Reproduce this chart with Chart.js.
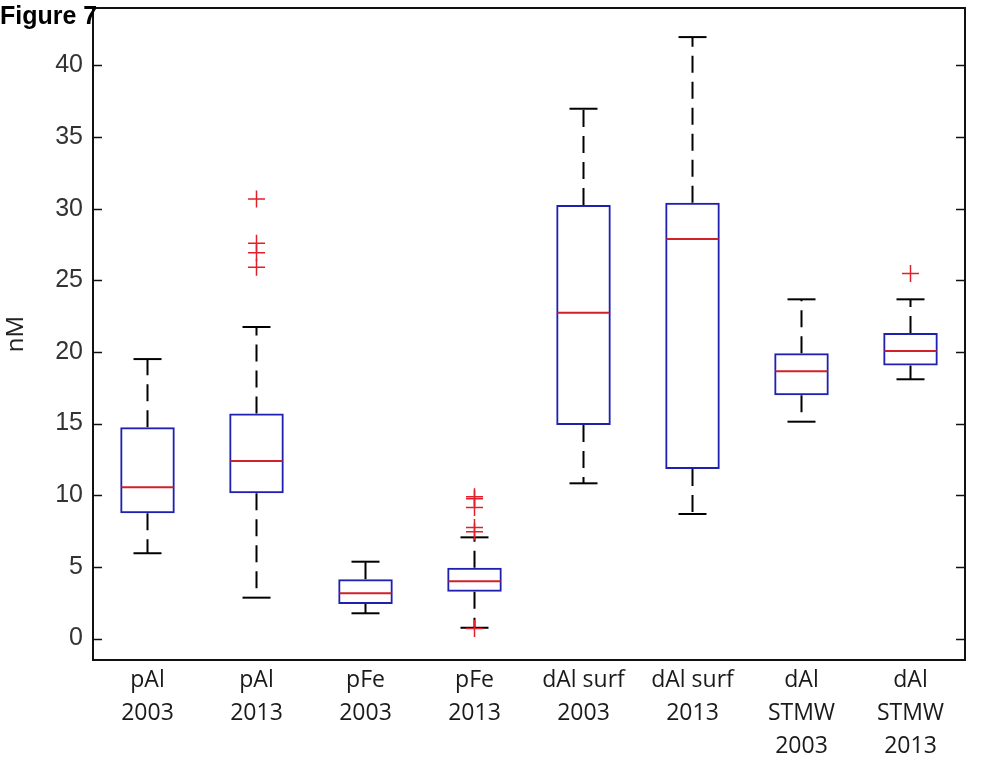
<!DOCTYPE html>
<html>
<head>
<meta charset="utf-8">
<script src="https://cdn.jsdelivr.net/npm/chart.js@4/dist/chart.umd.min.js"></script>
<style>
  html, body { margin: 0; padding: 0; background: #fff; }
  #wrap { position: relative; width: 982px; height: 765px; }
  #fig-title {
    position: absolute; left: 0; top: 3px; z-index: 2;
    font: bold 25px "Liberation Sans", Arial, sans-serif;
    line-height: 24px; color: #000;
  }
</style>
</head>
<body>
<div id="wrap">
  <canvas id="chart" width="982" height="765"></canvas>
  <div id="fig-title">Figure 7</div>
</div>
<script>
// box plot stats (nM)
const categories = [
    ["pAl", "2003"], ["pAl", "2013"], ["pFe", "2003"], ["pFe", "2013"],
    ["dAl surf", "2003"], ["dAl surf", "2013"],
    ["dAl", "STMW", "2003"], ["dAl", "STMW", "2013"],
];
const whiskerLow  = [5.95, 2.85, 1.76, 0.75, 10.83, 8.69, 15.13, 18.09];
const q1          = [8.74, 10.13, 2.41, 3.27, 14.90, 11.83, 16.97, 19.06];
const median      = [10.55, 12.39, 3.15, 3.99, 22.74, 27.88, 18.65, 20.06];
const q3          = [14.74, 15.70, 4.13, 4.94, 30.25, 30.41, 19.90, 21.32];
const whiskerHigh = [19.50, 21.74, 5.36, 7.06, 36.97, 41.97, 23.67, 23.67];
const outliers = [
    [], [25.9, 26.92, 27.58, 30.67], [], [0.7, 7.45, 7.75, 9.15, 9.75, 9.9],
    [], [], [], [25.48],
];
const yTicks = [0, 5, 10, 15, 20, 25, 30, 35, 40];

// x uses the label array itself so the category scale finds it by reference
const whiskerPts = [];
const capPts = [];
const outlierPts = [];
categories.forEach((cat, i) => {
    whiskerPts.push({ x: cat, y: q3[i] }, { x: cat, y: whiskerHigh[i] }, { x: cat, y: null });
    whiskerPts.push({ x: cat, y: q1[i] }, { x: cat, y: whiskerLow[i] }, { x: cat, y: null });
    capPts.push({ x: cat, y: whiskerHigh[i] }, { x: cat, y: whiskerLow[i] });
    outliers[i].forEach(v => outlierPts.push({ x: cat, y: v }));
});

// axes frame + inward ticks, matlab style
const framePlugin = {
    id: "frame",
    afterDatasetsDraw(chart) {
        const { ctx, chartArea: a, scales: { y } } = chart;
        ctx.save();
        ctx.strokeStyle = "#111";
        ctx.lineWidth = 2;
        ctx.strokeRect(a.left, a.top, a.right - a.left, a.bottom - a.top);
        ctx.beginPath();
        yTicks.forEach(v => {
            const py = Math.round(y.getPixelForValue(v)) + 0.5;
            ctx.moveTo(a.left, py);  ctx.lineTo(a.left + 9, py);
            ctx.moveTo(a.right, py); ctx.lineTo(a.right - 9, py);
        });
        ctx.lineWidth = 1.5;
        ctx.stroke();
        ctx.restore();
    },
};

new Chart(document.getElementById("chart"), {
    type: "bar",
    data: {
        labels: categories,
        datasets: [
            {
                type: "line",
                data: median,
                showLine: false,
                pointStyle: "line",
                pointRadius: 26,
                pointBorderColor: "#d0202a",
                pointBorderWidth: 2,
                order: 0,
            },
            {
                type: "line",
                data: outlierPts,
                showLine: false,
                pointStyle: "cross",
                pointRadius: 8.5,
                pointBorderColor: "#e0202a",
                pointBorderWidth: 1.5,
                order: 0,
            },
            {
                type: "line",
                data: capPts,
                showLine: false,
                pointStyle: "line",
                pointRadius: 14,
                pointBorderColor: "#000",
                pointBorderWidth: 2,
                order: 1,
            },
            {
                type: "bar",
                data: categories.map((_, i) => [q1[i], q3[i]]),
                backgroundColor: "rgba(0,0,0,0)",
                borderColor: "#2020b0",
                borderWidth: 2,
                borderSkipped: false,
                categoryPercentage: 1,
                barPercentage: 0.5,
                order: 2,
            },
            {
                type: "line",
                data: whiskerPts,
                borderColor: "#000",
                borderWidth: 2,
                borderDash: [17, 9],
                pointRadius: 0,
                spanGaps: false,
                order: 3,
            },
        ],
    },
    options: {
        responsive: false,
        animation: false,
        events: [],
        layout: { autoPadding: false, padding: { top: 8, right: 17, left: 0, bottom: 0 } },
        plugins: { legend: { display: false }, tooltip: { enabled: false } },
        scales: {
            x: {
                offset: true,
                grid: { display: false, drawTicks: false },
                border: { display: false },
                ticks: {
                    autoSkip: false, maxRotation: 0, padding: 4,
                    color: "#1a1a1a",
                    font: { family: '"Open Sans"', size: 23, lineHeight: 1.43 },
                },
                afterFit: s => {
                    s.height = 105;
                    s.paddingLeft = 0; s.paddingRight = 0;
                },
            },
            y: {
                min: -1.5,
                max: 44,
                afterBuildTicks: s => { s.ticks = yTicks.map(v => ({ value: v })); },
                grid: { display: false, drawTicks: false },
                border: { display: false },
                ticks: {
                    padding: 10, color: "#333",
                    font: { family: '"Liberation Sans"', size: 25 },
                },
                title: {
                    display: true, text: "nM", color: "#222",
                    font: { family: '"Open Sans"', size: 24 },
                    padding: { top: 2, bottom: 0 },
                },
                afterFit: s => {
                    s.width = 93;
                    s.paddingTop = 0; s.paddingBottom = 0;
                },
            },
        },
    },
    plugins: [framePlugin],
});
</script>
</body>
</html>
